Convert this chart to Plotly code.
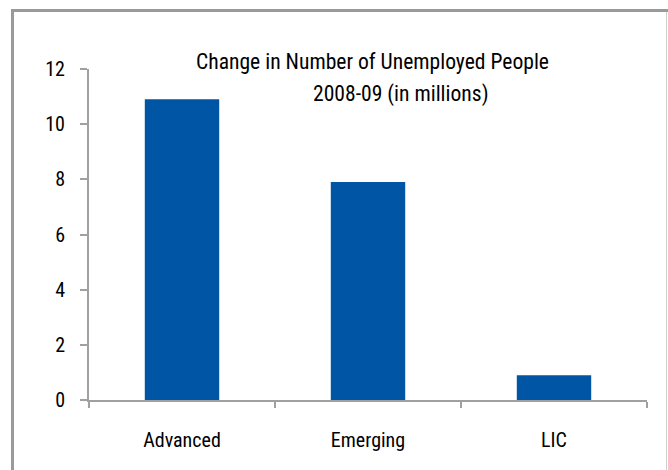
import plotly.graph_objects as go

categories = ["Advanced", "Emerging", "LIC"]
values = [10.9, 7.9, 0.9]
y_ticks = [0, 2, 4, 6, 8, 10, 12]
title_line1 = "Change in Number of Unemployed People"
title_line2 = "2008-09 (in millions)"

FONT = "Roboto Condensed, Liberation Sans Narrow, sans-serif"
W, H = 668, 470
L, R, T, B = 89, 21, 69, 70
pw, ph = W - L - R, H - T - B

def px(x):
    return (x - L) / pw

def py(y):
    return (H - B - y) / ph

fig = go.Figure(go.Bar(x=categories, y=values, marker=dict(color="#0055A5", line=dict(width=0)), width=0.4))

fig.update_layout(
    width=W, height=H,
    margin=dict(l=L, r=R, t=T, b=B),
    paper_bgcolor="white", plot_bgcolor="white",
    showlegend=False,
    font=dict(family=FONT, size=20, color="black"),
)
fig.update_xaxes(
    showline=True, linecolor="#A0A0A0", linewidth=2,
    ticks="outside", tickson="boundaries", ticklen=6, tickcolor="#A0A0A0", tickwidth=2,
    ticklabelstandoff=21, showgrid=False, tickfont=dict(size=20),
)
fig.update_yaxes(
    range=[0, 12], tickvals=y_ticks, showline=True, linecolor="#A0A0A0", linewidth=2,
    ticks="outside", ticklen=7, tickcolor="#A0A0A0", tickwidth=2,
    ticklabelstandoff=11, showgrid=False, zeroline=False, tickfont=dict(size=20),
)

fig.add_annotation(text=title_line1, xref="paper", yref="paper", x=px(194), y=py(47),
                   xanchor="left", yanchor="top", showarrow=False, font=dict(size=21.6, family=FONT))
fig.add_annotation(text=title_line2, xref="paper", yref="paper", x=px(311), y=py(79),
                   xanchor="left", yanchor="top", showarrow=False, font=dict(size=21.6, family=FONT))

# outer frame
fig.add_shape(type="line", xref="paper", yref="paper", x0=px(12.5), x1=px(12.5), y0=py(10.5), y1=py(480),
              line=dict(color="#9A9A9A", width=3))
fig.add_shape(type="line", xref="paper", yref="paper", x0=px(11), x1=px(680), y0=py(10.5), y1=py(10.5),
              line=dict(color="#9A9A9A", width=3))
fig.add_shape(type="line", xref="paper", yref="paper", x0=px(666.5), x1=px(666.5), y0=py(12), y1=py(480),
              line=dict(color="#D0D0D0", width=1))

fig.write_html("out.html")
